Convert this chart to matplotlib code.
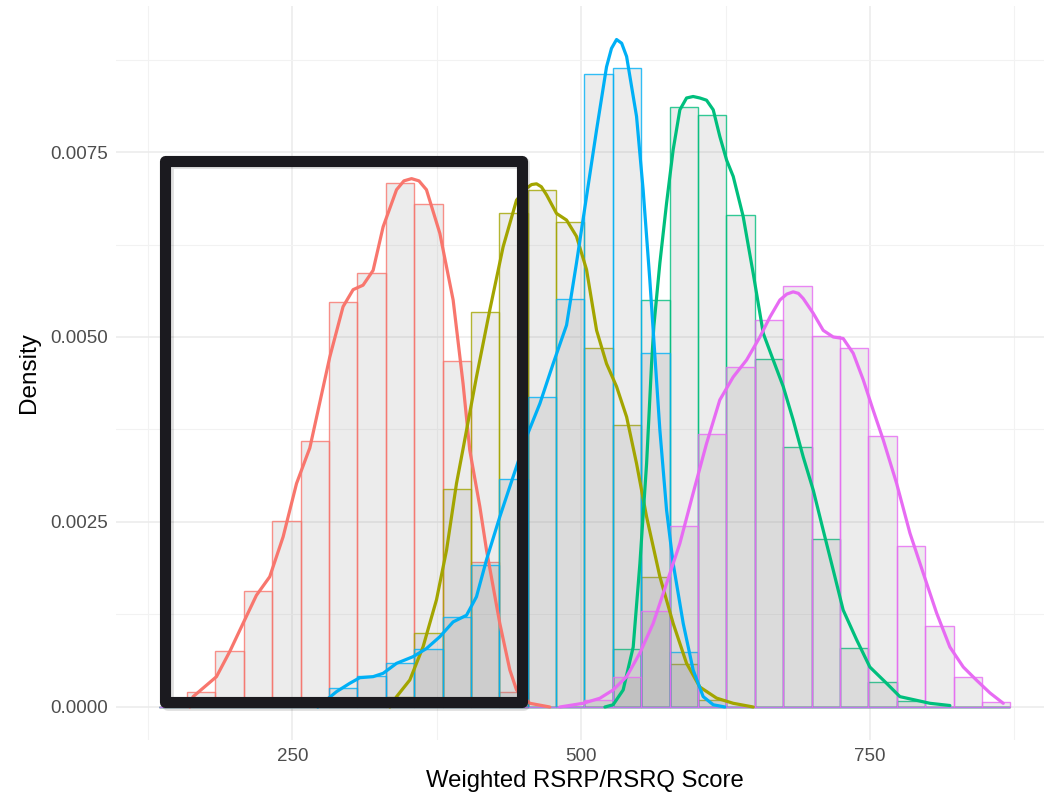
import matplotlib
matplotlib.use('Agg')
import matplotlib.pyplot as plt
import matplotlib.transforms as mtransforms
from matplotlib.patches import Rectangle

plt.rcParams['font.family'] = ['Liberation Sans', 'DejaVu Sans']

# Histogram bins shared by all groups (30 bins, ggplot default)
bin_start = 134.1
bin_width = 24.58
n_bins = 30

# Density per bin (bins 0..29)
red_hist = [0, 0.0002, 0.00075, 0.00157, 0.00251, 0.0036, 0.00547, 0.00586,
            0.00708, 0.0068, 0.00468, 0.00196, 0.0002, 0, 0, 0, 0, 0, 0, 0,
            0, 0, 0, 0, 0, 0, 0, 0, 0, 0]
olive_hist = [0, 0, 0, 0, 0, 0, 0, 0, 0.00013, 0.001, 0.00295, 0.00534,
              0.00668, 0.00699, 0.00655, 0.00485, 0.00381, 0.00176, 0.00058,
              0.0001, 0, 0, 0, 0, 0, 0, 0, 0, 0, 0]
green_hist = [0, 0, 0, 0, 0, 0, 0, 0, 0, 0, 0, 0, 0, 0, 0, 0, 0.00078,
              0.0055, 0.00811, 0.008, 0.00665, 0.0047, 0.00352, 0.00227,
              0.0008, 0.00034, 0.00008, 0, 0, 0]
blue_hist = [0, 0, 0, 0, 0, 0, 0.00025, 0.00042, 0.00059, 0.00078, 0.00121,
             0.00192, 0.00308, 0.00419, 0.00551, 0.00856, 0.00864, 0.00478,
             0.00074, 0, 0, 0, 0, 0, 0, 0, 0, 0, 0, 0]
magenta_hist = [0, 0, 0, 0, 0, 0, 0, 0, 0, 0, 0, 0, 0, 0, 0, 0.0001, 0.0004,
                0.0013, 0.00245, 0.00369, 0.00459, 0.00523, 0.00569, 0.00501,
                0.00485, 0.00366, 0.00217, 0.00109, 0.0004, 0.00007]

# Density curves
red_x = [161.1, 163.9, 184.2, 195.7, 207.2, 218.8, 230.3, 241.9, 253.5, 262.1,
         265.0, 282.3, 293.8, 302.5, 311.1, 319.8, 328.5, 340.1, 346.5, 353.1,
         359.5, 366.0, 377.6, 389.1, 397.7, 403.5, 412.2, 418.0, 429.5, 438.2,
         444.0, 455.5, 472.8]
red_y = [0, 0.000139, 0.00041, 0.00075, 0.00113, 0.00151, 0.00176, 0.0023,
         0.00302, 0.00338, 0.0035, 0.00473, 0.00541, 0.00564, 0.0057, 0.0059,
         0.00649, 0.00699, 0.00711, 0.00714, 0.00711, 0.00699, 0.0064, 0.0055,
         0.00437, 0.00347, 0.00271, 0.00212, 0.00113, 0.0005, 0.00023,
         0.00005, 0]

olive_x = [334.3, 340.1, 351.6, 363.1, 374.7, 383.4, 392.0, 397.7, 409.3, 420.9,
           432.4, 444.0, 452.7, 457.0, 461.3, 465.5, 470.0, 478.6, 487.3, 495.9,
           504.6, 513.3, 521.9, 530.6, 539.3, 547.9, 556.6, 568.1, 579.6, 591.2,
           602.7, 617.2, 631.6, 648.9]
olive_y = [0, 0.000139, 0.000365, 0.000815, 0.00145, 0.00212, 0.00302, 0.00349,
           0.00446, 0.00537, 0.00622, 0.00685, 0.00701, 0.00706, 0.00707,
           0.00703, 0.00692, 0.00667, 0.00658, 0.00636, 0.00591, 0.00509,
           0.00464, 0.00433, 0.00392, 0.00329, 0.00257, 0.00176, 0.00113,
           0.00059, 0.00027, 0.00012, 0.00005, 0]

green_x = [520.5, 527.6, 536.3, 545.0, 550.8, 556.6, 560.9, 562.9, 568.1, 573.9,
           579.6, 585.4, 591.2, 596.9, 602.7, 608.5, 614.3, 620.0, 625.9, 631.6,
           640.2, 648.9, 657.6, 666.2, 674.9, 683.5, 692.2, 700.9, 709.5, 718.2,
           726.8, 738.4, 749.9, 764.4, 775.9, 790.4, 801.9, 819.2]
green_y = [0, 0.00003, 0.00023, 0.00081, 0.00194, 0.00329, 0.00464, 0.00515,
           0.006, 0.00681, 0.00753, 0.00807, 0.00823, 0.00825, 0.00823, 0.0082,
           0.00807, 0.00771, 0.00739, 0.00717, 0.00663, 0.00586, 0.00505,
           0.00469, 0.00433, 0.00388, 0.00338, 0.00293, 0.00239, 0.00185,
           0.00131, 0.00091, 0.00054, 0.00032, 0.00014, 0.00009, 0.00005,
           0.00002]

blue_x = [271.9, 288.1, 299.6, 308.3, 319.8, 328.5, 340.1, 354.4, 366.0, 377.6,
          389.1, 400.7, 409.3, 418.0, 429.5, 441.0, 452.6, 464.2, 475.7, 487.3,
          495.9, 504.6, 513.3, 521.9, 526.2, 530.6, 535.0, 539.3, 547.9, 553.6,
          559.4, 562.3, 568.1, 573.9, 579.6, 588.3, 596.9, 605.6, 614.3, 624.4]
blue_y = [0, 0.000207, 0.00032, 0.000396, 0.00041, 0.000455, 0.00059, 0.00068,
          0.00079, 0.00095, 0.00115, 0.00124, 0.00149, 0.00199, 0.00257,
          0.00311, 0.00365, 0.0041, 0.00464, 0.00516, 0.006, 0.0069, 0.0078,
          0.00865, 0.0089, 0.00902, 0.00897, 0.00879, 0.00798, 0.00699,
          0.00577, 0.00509, 0.00374, 0.00266, 0.00194, 0.00113, 0.0005,
          0.00014, 0.00003, 0]

magenta_x = [481.5, 501.7, 516.1, 527.6, 539.3, 550.8, 562.3, 573.9, 585.4,
             596.9, 608.5, 620.0, 631.6, 643.2, 654.7, 663.4, 672.0, 678.0,
             683.5, 688.0, 692.2, 700.9, 709.5, 718.2, 726.8, 735.5, 744.2,
             752.8, 761.5, 773.1, 784.6, 796.1, 807.7, 819.2, 830.8, 842.4,
             853.9, 865.4]
magenta_y = [0, 0.00005, 0.000118, 0.00023, 0.00041, 0.00073, 0.00113,
             0.00167, 0.00221, 0.00289, 0.00356, 0.00415, 0.00446, 0.00469,
             0.005, 0.00527, 0.0055, 0.00558, 0.00561, 0.00559, 0.00552,
             0.00532, 0.00509, 0.005, 0.00498, 0.00478, 0.00442, 0.00401,
             0.00361, 0.00302, 0.00235, 0.00181, 0.00127, 0.00081, 0.00054,
             0.00036, 0.00019, 0.00005]

# Highlight box (data coords of the outline centre)
box_x = [139.8, 448.3]
box_y = [0.0000608, 0.007385]

colors = ['#F8766D', '#A3A500', '#00BF7D', '#00B0F6', '#E76BF3']
hists = [red_hist, olive_hist, green_hist, blue_hist, magenta_hist]
curves = [(red_x, red_y), (olive_x, olive_y), (green_x, green_y),
          (blue_x, blue_y), (magenta_x, magenta_y)]

fig = plt.figure(figsize=(10.44, 8.01), dpi=100)
ax = fig.add_axes([116 / 1044, 61 / 801, (1054.3 - 116) / 1044, 734 / 801])

# Histograms
lefts = [bin_start + i * bin_width for i in range(n_bins)]
for c, h in zip(colors, hists):
	ec = matplotlib.colors.to_rgba(c, 0.8)
	ax.bar(lefts, h, width=bin_width, align='edge',
		facecolor=(0.5, 0.5, 0.5, 0.15), edgecolor=ec, linewidth=1.0, zorder=2)

# Density lines
for c, (xs, ys) in zip(colors, curves):
	ax.plot(xs, ys, color=c, linewidth=2.3, solid_capstyle='round',
		solid_joinstyle='round', zorder=3)

# Box with a soft shadow
bw = box_x[1] - box_x[0]
bh = box_y[1] - box_y[0]
shadow_tr = mtransforms.offset_copy(ax.transData, fig=fig, x=2, y=-2, units='points')
ax.add_patch(Rectangle((box_x[0], box_y[0]), bw, bh, fill=False,
	edgecolor=(0, 0, 0, 0.12), linewidth=8.5, joinstyle='round',
	transform=shadow_tr, zorder=4, clip_on=False))
ax.add_patch(Rectangle((box_x[0], box_y[0]), bw, bh, fill=False,
	edgecolor='#1b1a1f', linewidth=8, joinstyle='round', zorder=5, clip_on=False))

# Axes styling (theme_minimal-like)
ax.set_xlim(97.2, 909.6)
ax.set_ylim(-0.000446, 0.009473)
ax.set_xticks([250, 500, 750])
ax.set_xticklabels(['250', '500', '750'])
ax.set_xticks([125, 375, 625, 875], minor=True)
ax.set_yticks([0, 0.0025, 0.005, 0.0075])
ax.set_yticklabels(['0.0000', '0.0025', '0.0050', '0.0075'])
ax.set_yticks([0.00125, 0.00375, 0.00625, 0.00875], minor=True)
ax.grid(which='major', color='#EBEBEB', linewidth=1.1, zorder=0)
ax.grid(which='minor', color='#F2F2F2', linewidth=0.8, zorder=0)
ax.set_axisbelow(True)
for s in ax.spines.values():
	s.set_visible(False)
ax.tick_params(which='both', length=0)
ax.tick_params(axis='x', pad=6, labelsize=13.5, labelcolor='#4D4D4D')
ax.tick_params(axis='y', pad=6, labelsize=13.5, labelcolor='#4D4D4D')
ax.set_xlabel('Weighted RSRP/RSRQ Score', fontsize=17.2, color='black', labelpad=3)
ax.set_ylabel('Density', fontsize=17.5, color='black', labelpad=7)

fig.savefig('out.png', dpi=100)
